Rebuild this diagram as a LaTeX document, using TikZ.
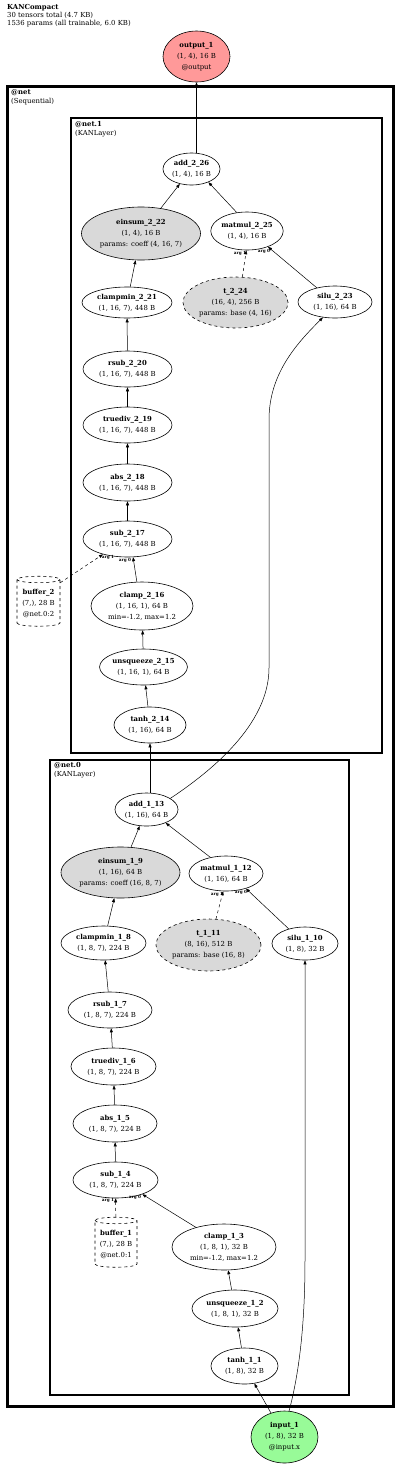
\documentclass[tikz,border=0pt]{standalone}
\usepackage{fontspec}
\setmainfont{DejaVu Serif}
\usetikzlibrary{shapes.geometric,arrows.meta}
\definecolor{outpink}{HTML}{FF9999}
\definecolor{ingreen}{HTML}{98FB98}
\definecolor{pgray}{HTML}{D9D9D9}
\begin{document}
\begin{tikzpicture}[x=1pt,y=-1pt,
  op/.style={ellipse, draw=black, line width=0.6pt, inner sep=0pt, align=center, font=\fontsize{6.9}{11}\selectfont},
  par/.style={op, fill=pgray},
  dpar/.style={par, dashed},
  buf/.style={cylinder, shape border rotate=90, aspect=0.2, draw=black, dashed, line width=0.6pt, inner sep=0pt, align=center, font=\fontsize{6.9}{11}\selectfont},
  arr/.style={-{Triangle[length=4pt,width=3pt]}, line width=0.5pt},
  darr/.style={arr, dashed},
  argl/.style={font=\fontsize{4.2}{5}\selectfont\bfseries, inner sep=0pt},
  lbl/.style={anchor=north west, align=left, inner sep=0pt, font=\fontsize{6.9}{9}\selectfont},
  box/.style={draw=black, line width=2.5pt},
]
\useasboundingbox (0,0) rectangle (400,1465);
% header
\node[lbl, font=\fontsize{6.9}{8}\selectfont] (hdr) at (7,4) {\textbf{KANCompact}\\30 tensors total (4.7 KB)\\1536 params (all trainable, 6.0 KB)};
% clusters
\draw[box, line width=3pt] (7,86) rectangle (393,1406);
\node[lbl] (lnet) at (11,89) {\textbf{@net}\\(Sequential)};
\draw[box] (71,118) rectangle (382,753);
\node[lbl] (lnet1) at (75,121) {\textbf{@net.1}\\(KANLayer)};
\draw[box] (50,760) rectangle (349,1395);
\node[lbl] (lnet0) at (54,762.5) {\textbf{@net.0}\\(KANLayer)};
% nodes
\node[op, fill=outpink, minimum width=67pt, minimum height=51pt] (out) at (196.5,56.5) {\textbf{output\_1}\\(1, 4), 16 B\\@output};
\node[op, minimum width=57pt, minimum height=32pt] (add2) at (191.5,169) {\textbf{add\_2\_26}\\(1, 4), 16 B};
\node[par, minimum width=119pt, minimum height=53pt] (ein2) at (141,233.5) {\textbf{einsum\_2\_22}\\(1, 4), 16 B\\params: coeff (4, 16, 7)};
\node[op, minimum width=72pt, minimum height=38pt] (mm2) at (247,231) {\textbf{matmul\_2\_25}\\(1, 4), 16 B};
\node[dpar, minimum width=105pt, minimum height=51pt] (t2) at (235.5,302.5) {\textbf{t\_2\_24}\\(16, 4), 256 B\\params: base (4, 16)};
\node[op, minimum width=74pt, minimum height=32pt] (silu2) at (335,302) {\textbf{silu\_2\_23}\\(1, 16), 64 B};
\node[op, minimum width=90pt, minimum height=31pt] (cm2) at (127,302.5) {\textbf{clampmin\_2\_21}\\(1, 16, 7), 448 B};
\node[op, minimum width=89pt, minimum height=36pt] (rsub2) at (127.5,369) {\textbf{rsub\_2\_20}\\(1, 16, 7), 448 B};
\node[op, minimum width=89pt, minimum height=36pt] (tdiv2) at (127.5,425) {\textbf{truediv\_2\_19}\\(1, 16, 7), 448 B};
\node[op, minimum width=89pt, minimum height=37pt] (abs2) at (127.5,482.5) {\textbf{abs\_2\_18}\\(1, 16, 7), 448 B};
\node[op, minimum width=89pt, minimum height=36pt] (sub2) at (127.5,539) {\textbf{sub\_2\_17}\\(1, 16, 7), 448 B};
\node[buf, minimum width=43pt, minimum height=50pt] (buf2) at (38.5,603) {\textbf{buffer\_2}\\(7,), 28 B\\@net.0:2};
\node[op, minimum width=102pt, minimum height=48pt] (cl2) at (142,606) {\textbf{clamp\_2\_16}\\(1, 16, 1), 64 B\\min=-1.2, max=1.2};
\node[op, minimum width=83pt, minimum height=36pt] (uns2) at (143.5,667) {\textbf{unsqueeze\_2\_15}\\(1, 16, 1), 64 B};
\node[op, minimum width=72pt, minimum height=36pt] (tanh2) at (150,725) {\textbf{tanh\_2\_14}\\(1, 16), 64 B};
\node[op, minimum width=63pt, minimum height=33pt] (add1) at (146.5,809.5) {\textbf{add\_1\_13}\\(1, 16), 64 B};
\node[par, minimum width=119pt, minimum height=51pt] (ein1) at (120.5,872.5) {\textbf{einsum\_1\_9}\\(1, 16), 64 B\\params: coeff (16, 8, 7)};
\node[op, minimum width=74pt, minimum height=35pt] (mm1) at (226,873.5) {\textbf{matmul\_1\_12}\\(1, 16), 64 B};
\node[dpar, minimum width=105pt, minimum height=52pt] (t1) at (208.5,945) {\textbf{t\_1\_11}\\(8, 16), 512 B\\params: base (16, 8)};
\node[op, minimum width=66pt, minimum height=33pt] (silu1) at (305,943.5) {\textbf{silu\_1\_10}\\(1, 8), 32 B};
\node[op, minimum width=85pt, minimum height=34pt] (cm1) at (103.5,943) {\textbf{clampmin\_1\_8}\\(1, 8, 7), 224 B};
\node[op, minimum width=84pt, minimum height=36pt] (rsub1) at (110,1010) {\textbf{rsub\_1\_7}\\(1, 8, 7), 224 B};
\node[op, minimum width=85pt, minimum height=37pt] (tdiv1) at (113.5,1066.5) {\textbf{truediv\_1\_6}\\(1, 8, 7), 224 B};
\node[op, minimum width=84pt, minimum height=37pt] (abs1) at (115,1123.5) {\textbf{abs\_1\_5}\\(1, 8, 7), 224 B};
\node[op, minimum width=85pt, minimum height=36pt] (sub1) at (115.5,1180) {\textbf{sub\_1\_4}\\(1, 8, 7), 224 B};
\node[buf, minimum width=42pt, minimum height=50pt] (buf1) at (116,1244) {\textbf{buffer\_1}\\(7,), 28 B\\@net.0:1};
\node[op, minimum width=104pt, minimum height=46pt] (cl1) at (224,1247) {\textbf{clamp\_1\_3}\\(1, 8, 1), 32 B\\min=-1.2, max=1.2};
\node[op, minimum width=86pt, minimum height=37pt] (uns1) at (235,1308.5) {\textbf{unsqueeze\_1\_2}\\(1, 8, 1), 32 B};
\node[op, minimum width=67pt, minimum height=36pt] (tanh1) at (244.5,1366) {\textbf{tanh\_1\_1}\\(1, 8), 32 B};
\node[op, fill=ingreen, minimum width=67pt, minimum height=52pt] (inp) at (284.5,1437) {\textbf{input\_1}\\(1, 8), 32 B\\@input.x};
% edges net.1
\draw[arr] (add2.north -| out.south) -- (out.south);
\draw[arr] (ein2) -- (add2);
\draw[arr] (mm2.119) -- (add2.-38);
\draw[darr] (t2.75) -- (mm2.-92);
\draw[arr] (silu2.142) -- (mm2.-37);
\draw[arr] (cm2) -- (ein2);
\draw[arr] (rsub2) -- (cm2);
\draw[arr] (tdiv2) -- (rsub2);
\draw[arr] (abs2) -- (tdiv2);
\draw[arr] (sub2) -- (abs2);
\draw[arr] (cl2.102) -- (sub2.-73);
\draw[darr] (buf2.43) -- (sub2.-148);
\draw[arr] (uns2) -- (cl2);
\draw[arr] (tanh2) -- (uns2);
\node[argl] (a21) at (240,253) {arg 1};
\node[argl] (a20) at (264,251) {arg 0};
\node[argl] (s21) at (108,557) {arg 1};
\node[argl] (s20) at (125,560) {arg 0};
% edges net.0
\draw[arr] (add1.north -| tanh2.south) -- (tanh2.south);
\draw[arr] (add1.25) .. controls (210,772) and (269,725) .. (269,668) -- (269,420) .. controls (269,375) and (295,345) .. (silu2.-128);
\draw[arr] (ein1) -- (add1);
\draw[arr] (mm1.134) -- (add1.-35);
\draw[darr] (t1.74) -- (mm1.-99);
\draw[arr] (silu1.138) -- (mm1.-37);
\draw[arr] (cm1) -- (ein1);
\draw[arr] (rsub1) -- (cm1);
\draw[arr] (tdiv1) -- (rsub1);
\draw[arr] (abs1) -- (tdiv1);
\draw[arr] (sub1) -- (abs1);
\draw[arr] (cl1.145) -- (sub1.-28);
\draw[darr] (buf1) -- (sub1);
\draw[arr] (uns1) -- (cl1);
\draw[arr] (tanh1) -- (uns1);
\draw[arr] (inp) -- (tanh1);
\draw[arr] (inp.80) .. controls (300,1370) and (305,1320) .. (305,1260) -- (silu1.south);
\node[argl] (m11) at (217,894) {arg 1};
\node[argl] (m10) at (241,892) {arg 0};
\node[argl] (b11) at (108,1200) {arg 1};
\node[argl] (b10) at (135,1197) {arg 0};
\end{tikzpicture}
\end{document}
